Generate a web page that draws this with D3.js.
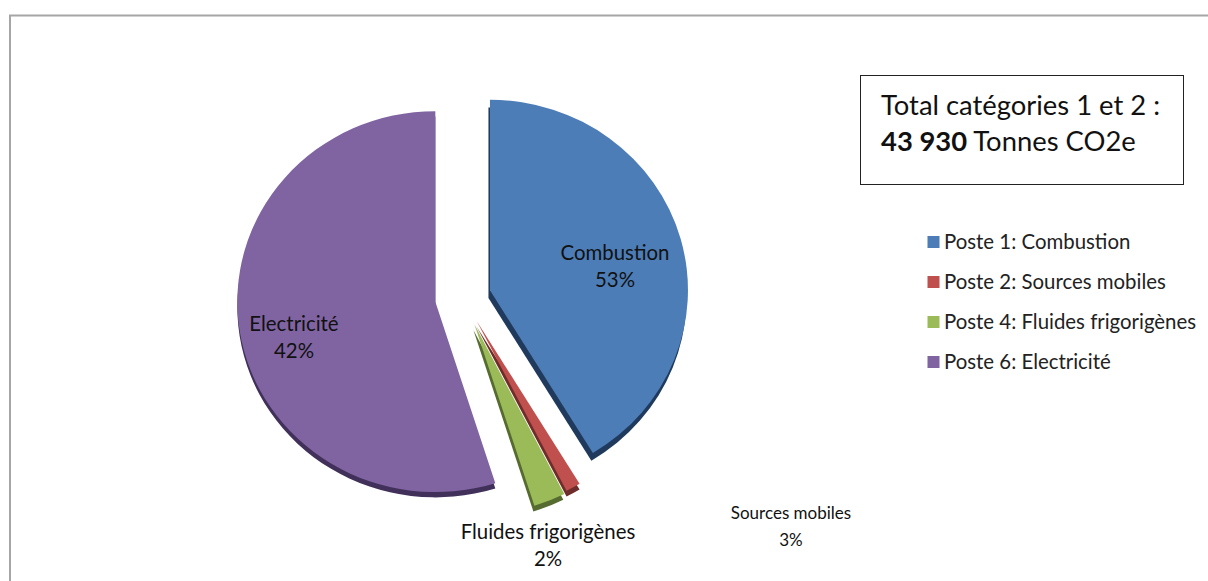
<!DOCTYPE html>
<html>
<head>
<meta charset="utf-8">
<script src="https://cdnjs.cloudflare.com/ajax/libs/d3/7.8.5/d3.min.js"></script>
<style>
html, body { margin: 0; padding: 0; background: #fff; }
svg { display: block; }
text { font-family: Lato, "Open Sans", sans-serif; fill: #111; }
.slice-label { text-anchor: middle; }
.legend-text { font-size: 20.4px; fill: #222; }
.total-text { font-size: 27.4px; }
</style>
</head>
<body>
<svg class="chart" width="1208" height="581"></svg>
<script>
// slices as drawn (share of the circle)
var categories = ['Combustion', 'Sources mobiles', 'Fluides frigorigènes', 'Electricité'];
var sliceValues = [41.3, 1.2, 2.6, 54.9];
// percentages as printed on the chart labels
var printedLabels = ['53%', '3%', '2%', '42%'];
var legendLabels = ['Poste 1: Combustion', 'Poste 2: Sources mobiles', 'Poste 4: Fluides frigorigènes', 'Poste 6: Electricité'];
var totalLine1 = 'Total catégories 1 et 2 :';
var totalValue = '43 930';
var totalUnit = ' Tonnes CO2e';

var colors = ['#4d7db7', '#c0504d', '#9bbb59', '#8064a2'];
var sideColors = ['#1f3a5c', '#6e2c2a', '#556b2f', '#40305a'];

var settings = { cx: 463, cy: 297.5, r: 198, tilt: 0.962 };
var explode = [28, 28, 30, 28];
var sideShift = [[-1.5, 8], [0, 6], [-1, 6], [0, 5.5]];
var labelPos = [[615, 254], [791, 513], [548, 533], [294, 325]];
var labelSize = [20.4, 17, 20.4, 20.4];

var svg = d3.select('.chart');

// outer frame, only top and left show in the crop
svg.append('path')
	.attr('d', 'M10,581V15.5H1208')
	.attr('fill', 'none')
	.attr('stroke', '#a6a6a6')
	.attr('stroke-width', 2);

var pieData = d3.pie().sort(null)(sliceValues);
var arc = d3.arc().innerRadius(0).outerRadius(settings.r);

var offset = function(d, i){
	var mid = (d.startAngle + d.endAngle) / 2;
	return [Math.sin(mid) * explode[i], -Math.cos(mid) * explode[i]];
};

var pie = svg.append('g')
	.attr('transform', 'translate(' + settings.cx + ',' + settings.cy + ') scale(1,' + settings.tilt + ')');

// extruded side first, then the top faces
pie.selectAll('path.side')
	.data(pieData)
	.enter().append('path')
	.attr('class', 'side')
	.attr('d', arc)
	.attr('fill', function(d, i){ return sideColors[i]; })
	.attr('transform', function(d, i){
		var o = offset(d, i);
		return 'translate(' + (o[0] + sideShift[i][0]) + ',' + (o[1] + sideShift[i][1]) + ')';
	});

pie.selectAll('path.face')
	.data(pieData)
	.enter().append('path')
	.attr('class', 'face')
	.attr('d', arc)
	.attr('fill', function(d, i){ return colors[i]; })
	.attr('transform', function(d, i){
		var o = offset(d, i);
		return 'translate(' + o[0] + ',' + o[1] + ')';
	});

// slice labels
categories.forEach(function(c, i){
	var t = svg.append('text').attr('class', 'slice-label').attr('font-size', labelSize[i]);
	t.append('tspan').attr('x', labelPos[i][0]).attr('y', labelPos[i][1] + 6).text(c);
	t.append('tspan').attr('x', labelPos[i][0]).attr('y', labelPos[i][1] + 33).text(printedLabels[i]);
});

// total box
svg.append('rect')
	.attr('x', 860.5).attr('y', 75.5)
	.attr('width', 323).attr('height', 109)
	.attr('fill', '#fff').attr('stroke', '#222').attr('stroke-width', 1);
svg.append('text').attr('class', 'total-text').attr('x', 881).attr('y', 115).text(totalLine1);
var total = svg.append('text').attr('class', 'total-text').attr('x', 881).attr('y', 151);
total.append('tspan').attr('font-weight', 'bold').text(totalValue);
total.append('tspan').attr('xml:space', 'preserve').text(totalUnit);

// legend
var legendY = d3.scalePoint().domain(legendLabels).range([242, 362]);
var legend = svg.selectAll('g.legend')
	.data(legendLabels)
	.enter().append('g')
	.attr('class', 'legend')
	.attr('transform', function(d){ return 'translate(927.5,' + legendY(d) + ')'; });
legend.append('rect')
	.attr('x', 0).attr('y', -6)
	.attr('width', 12).attr('height', 12)
	.attr('fill', function(d, i){ return colors[i]; });
legend.append('text')
	.attr('class', 'legend-text')
	.attr('x', 16.5).attr('y', 7)
	.text(function(d){ return d; });
</script>
</body>
</html>
